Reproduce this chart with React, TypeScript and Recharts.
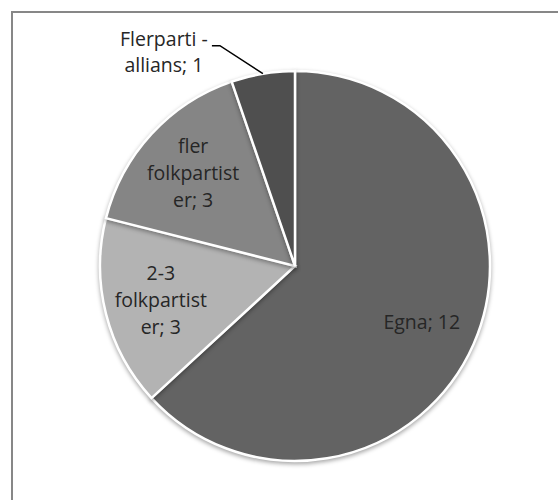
import React from 'react';
import { PieChart, Pie, Cell } from 'recharts';

const categories = ['Egna', '2-3 folkpartister', 'fler folkpartister', 'Flerparti - allians'];
const values = [12, 3, 3, 1];
const labelLines = [['Egna'], ['2-3', 'folkpartist', 'er'], ['fler', 'folkpartist', 'er'], ['Flerparti -', 'allians']];
const colors = ['#636363', '#b3b3b3', '#858585', '#4f4f4f'];

const data = categories.map((name, i) => ({ name, value: values[i], lines: labelLines[i] }));

const RAD = Math.PI / 180;
const FONT = '"Open Sans", sans-serif';
const TXT = '#262626';

const renderLabel = (props: any) => {
  const { cx, cy, midAngle, outerRadius, index } = props;
  const d = data[index];
  const lines = d.lines.slice();
  lines[lines.length - 1] = `${lines[lines.length - 1]}; ${d.value}`;
  const cos = Math.cos(-midAngle * RAD);
  const sin = Math.sin(-midAngle * RAD);
  if (index === 3) {
    const ex = cx + outerRadius * cos;
    const ey = cy + outerRadius * sin;
    const bx = ex - 43;
    const by = ey - 28;
    const lx = bx - 8;
    const tx = lx - 48;
    return (
      <g>
        <polyline points={`${ex},${ey} ${bx},${by} ${lx},${by}`} fill="none" stroke="#000" strokeWidth={1.5} />
        {lines.map((t, i) => (
          <text key={i} x={tx} y={by + i * 26} textAnchor="middle" fill={TXT} fontFamily={FONT} fontSize={19.5}>
            {t}
          </text>
        ))}
      </g>
    );
  }
  const r = outerRadius * 0.71;
  const x = cx + r * cos;
  const y = cy + r * sin;
  const n = lines.length;
  return (
    <g>
      {lines.map((t, i) => (
        <text key={i} x={x} y={y + (i - (n - 1) / 2) * 27} textAnchor="middle" dominantBaseline="central" fill={TXT} fontFamily={FONT} fontSize={19.5}>
          {t}
        </text>
      ))}
    </g>
  );
};

export default function App() {
  return (
    <div>
      <style>{`.recharts-pie-sector path { filter: drop-shadow(0px 2px 2px rgba(0,0,0,0.35)); }`}</style>
      <div style={{ position: 'absolute', left: 11, top: 11, width: 560, height: 500, borderTop: '2px solid #878787', borderLeft: '2px solid #878787', boxSizing: 'border-box' }} />
      <div style={{ position: 'absolute', left: 0, top: 0 }}>
        <PieChart width={558} height={500}>
          <Pie
            data={data}
            dataKey="value"
            nameKey="name"
            cx={290}
            cy={261}
            outerRadius={195}
            startAngle={90}
            endAngle={-270}
            stroke="#ffffff"
            strokeWidth={2.5}
            label={renderLabel}
            labelLine={false}
            isAnimationActive={false}
          >
            {data.map((d, i) => (
              <Cell key={d.name} fill={colors[i]} />
            ))}
          </Pie>
        </PieChart>
      </div>
    </div>
  );
}
